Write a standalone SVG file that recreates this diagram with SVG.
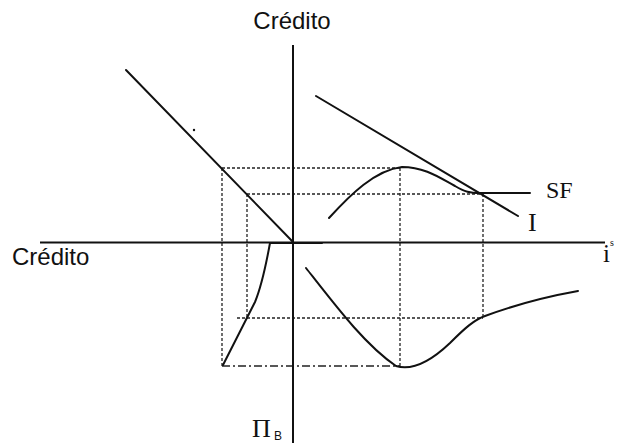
<svg xmlns="http://www.w3.org/2000/svg" width="618" height="443" viewBox="0 0 618 443">
<style>
.ax{stroke:#111;stroke-width:2;fill:none}
.cv{stroke:#111;stroke-width:2;fill:none;stroke-linecap:round;stroke-linejoin:round}
.dt{stroke:#222;stroke-width:1.3;fill:none;stroke-dasharray:3 2}
.lb{font-family:"Liberation Sans",Arial,sans-serif;fill:#111}
.sr{font-family:"Liberation Serif","Times New Roman",serif;fill:#111}
</style>
<rect width="618" height="443" fill="#fff"/>
<g id="guides">
<line class="dt" x1="222" y1="168" x2="222" y2="366"/>
<line class="dt" x1="247" y1="194" x2="247" y2="318"/>
<line class="dt" x1="222" y1="168" x2="400" y2="168"/>
<line class="dt" x1="247" y1="194" x2="483" y2="194"/>
<line class="dt" x1="400" y1="168" x2="400" y2="366"/>
<line class="dt" x1="483" y1="194" x2="483" y2="318"/>
<line class="dt" x1="237" y1="318" x2="483" y2="318"/>
<line class="dt" x1="222" y1="366" x2="400" y2="366" style="stroke-width:1.6;stroke-dasharray:8 3 2 3"/>
</g>
<g id="axes">
<line class="ax" x1="293" y1="45" x2="293" y2="443"/>
<line class="ax" x1="40" y1="242.5" x2="605" y2="242.5"/>
</g>
<g id="curves">
<path id="credit-line" class="cv" d="M126,70 L293,242"/>
<circle cx="194" cy="130" r="1.2" fill="#111"/>
<path id="lower-left" class="cv" d="M223,365 L255,302 C262,285 266,265 270,243 L322,243"/>
<path id="lower-right" class="cv" d="M306,268 C335,305 365,345 396,366 C412,371 430,362 450,343 C465,328 474,320 485,316 C520,303 550,296 578,291"/>
<path id="SF" class="cv" d="M329,218 C350,195 375,170 402,167 C425,167 440,178 455,186 C465,192 470,193 480,193 L530,193"/>
<path id="I" class="cv" d="M316,96 L518,216"/>
</g>
<g id="labels">
<text class="lb" x="292" y="29" font-size="24" text-anchor="middle">Crédito</text>
<text class="lb" x="12" y="265" font-size="24">Crédito</text>
<text class="sr" x="546" y="198" font-size="24">SF</text>
<text class="sr" x="528" y="231" font-size="26">I</text>
<text class="sr" x="603" y="262" font-size="25">i</text>
<text class="sr" x="610" y="246" font-size="10">s</text>
<text class="sr" x="252" y="437" font-size="26">Π</text>
<text class="lb" x="274" y="440" font-size="12">B</text>
</g>
</svg>
